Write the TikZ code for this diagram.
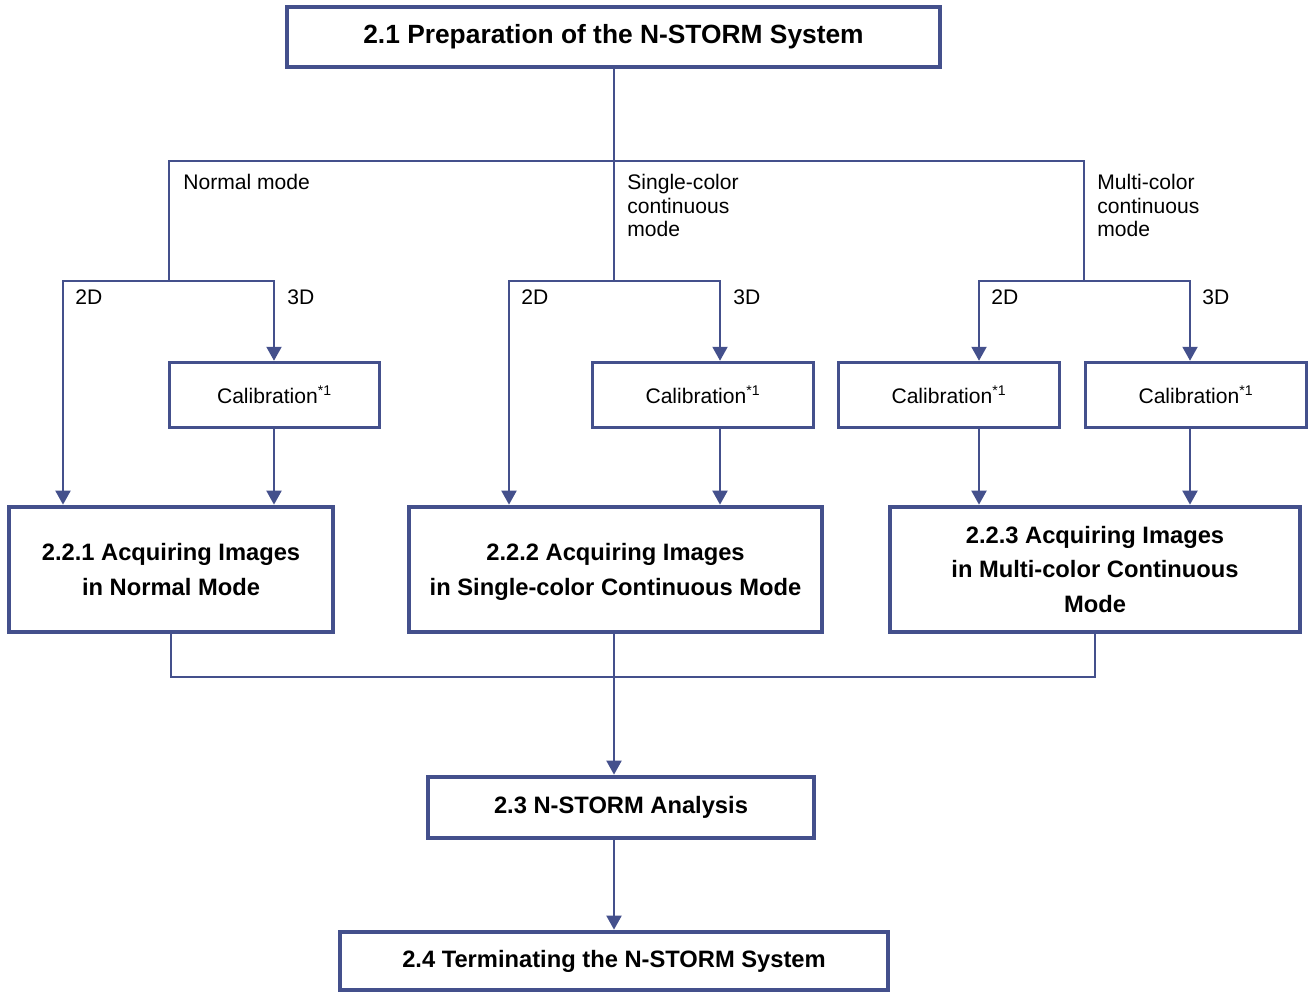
\documentclass[tikz,border=0pt]{standalone}
\usepackage{fontspec}
\setmainfont{Liberation Sans}
\usepackage{tikz}
\usetikzlibrary{arrows.meta,positioning}
\definecolor{stormblue}{RGB}{68,80,140}
\tikzset{flow/.style={-{Triangle[width=0.3cm,length=0.28cm]}}}

\begin{document}
\begin{tikzpicture}[x=0.02cm,y=-0.02cm,
                    link/.style={draw=stormblue,line width=1.2pt},
                    bigbox/.style={draw=stormblue,line width=2.7pt,fill=white,align=center,inner sep=0pt,
                                   font=\fontsize{13.5}{19.6}\selectfont\bfseries},
                    calbox/.style={draw=stormblue,line width=2pt,fill=white,inner sep=0pt,
                                   minimum height=1.3cm,font=\fontsize{12}{14}\selectfont},
                    lbl/.style={font=\fontsize{12}{13.6}\selectfont,align=left,inner sep=0pt,anchor=north west}]
\useasboundingbox (0,0) rectangle (1310,994);

% boxes
\node[bigbox,minimum width=13.06cm,minimum height=1.2cm,font=\fontsize{15}{18}\selectfont\bfseries]
     (prep) at (613.5,37) {2.1 Preparation of the N-STORM System};

\foreach \name/\x/\w in {cal1/274.5/4.2, cal2/703/4.42, cal3/949/4.42, cal4/1196/4.42}
   \node[calbox,minimum width=\w cm] (\name) at (\x,395) {Calibration\textsuperscript{*1}};

\node[bigbox,minimum width=6.48cm,minimum height=2.5cm] (acq1) at (171,569.5)
     {2.2.1 Acquiring Images\\in Normal Mode};
\node[bigbox,minimum width=8.26cm,minimum height=2.5cm] (acq2) at (615.5,569.5)
     {2.2.2 Acquiring Images\\\raisebox{0pt}[\height][0pt]{in Single-color Continuous Mode}};
\node[bigbox,minimum width=8.2cm,minimum height=2.5cm] (acq3) at (1095,569.5)
     {2.2.3 Acquiring Images\\in Multi-color Continuous\\Mode};
\node[bigbox,minimum width=7.72cm,minimum height=1.22cm] (ana) at (621,807.5) {2.3 N-STORM Analysis};
\node[bigbox,minimum width=10.96cm,minimum height=1.16cm] (term) at (614,961) {2.4 Terminating the N-STORM System};

% junctions
\coordinate (top) at (614,161);
\coordinate (nsplit) at (169,281);
\coordinate (ssplit) at (614,281);
\coordinate (msplit) at (1084,281);
\coordinate (n2d) at (63,281);
\coordinate (n3d) at (274,281);
\coordinate (s2d) at (509,281);
\coordinate (s3d) at (720,281);
\coordinate (m2d) at (979,281);
\coordinate (m3d) at (1190,281);
\coordinate (merge) at (614,677);

\draw[link] (top |- prep.south) -- (ssplit);
\draw[link] (nsplit) |- (top) -| (msplit);

\draw[link,flow] (nsplit) -- (n2d) -- (n2d |- acq1.north);
\draw[link,flow] (nsplit) -- (n3d) -- (n3d |- cal1.north);
\draw[link,flow] (n3d |- cal1.south) -- (n3d |- acq1.north);

\draw[link,flow] (ssplit) -- (s2d) -- (s2d |- acq2.north);
\draw[link,flow] (ssplit) -- (s3d) -- (s3d |- cal2.north);
\draw[link,flow] (s3d |- cal2.south) -- (s3d |- acq2.north);

\draw[link,flow] (msplit) -- (m2d) -- (m2d |- cal3.north);
\draw[link,flow] (msplit) -- (m3d) -- (m3d |- cal4.north);
\draw[link,flow] (m2d |- cal3.south) -- (m2d |- acq3.north);
\draw[link,flow] (m3d |- cal4.south) -- (m3d |- acq3.north);

\draw[link] (acq1.south) |- (merge) -| (acq3.south);
\draw[link,flow] (merge |- acq2.south) -- (merge |- ana.north);
\draw[link,flow] (merge |- ana.south) -- (merge |- term.north);

% labels
\node[lbl] (nmode) at (183,173.5) {Normal mode};
\node[lbl] (smode) at (627,173.5) {Single-color\\continuous\\mode};
\node[lbl] (mmode) at (1097,173.5) {Multi-color\\continuous\\mode};
\foreach \name/\x/\t in {n2dl/75/2D, n3dl/287/3D, s2dl/521/2D, s3dl/733/3D, m2dl/991/2D, m3dl/1202/3D}
   \node[lbl] (\name) at (\x,289.5) {\t};

\end{tikzpicture}
\end{document}
